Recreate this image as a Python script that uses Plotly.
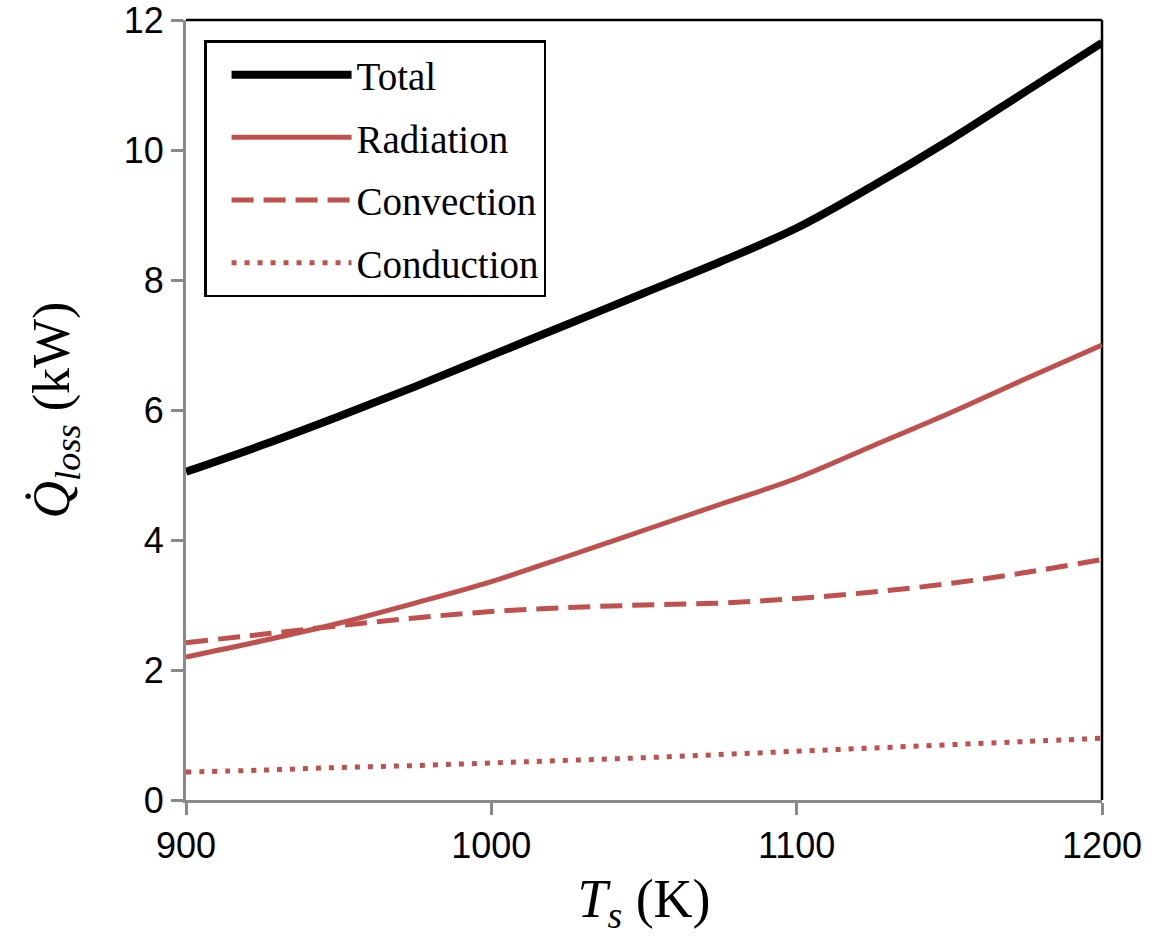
import plotly.graph_objects as go

T_s = [900, 925, 950, 975, 1000, 1025, 1050, 1075, 1100, 1125, 1150, 1175, 1200]
total = [5.05, 5.46, 5.90, 6.36, 6.84, 7.32, 7.80, 8.28, 8.80, 9.45, 10.15, 10.90, 11.65]
radiation = [2.20, 2.45, 2.72, 3.03, 3.36, 3.75, 4.15, 4.55, 4.95, 5.45, 5.95, 6.48, 7.00]
convection = [2.42, 2.55, 2.68, 2.80, 2.90, 2.96, 3.00, 3.03, 3.10, 3.20, 3.33, 3.50, 3.70]
conduction = [0.43, 0.46, 0.50, 0.53, 0.57, 0.61, 0.65, 0.70, 0.75, 0.80, 0.85, 0.90, 0.95]

x_ticks = [900, 1000, 1100, 1200]
y_ticks = [0, 2, 4, 6, 8, 10, 12]

red = "#C0504D"
serif = "Liberation Serif, Times New Roman, serif"
sans = "Liberation Sans, Arial, sans-serif"

fig = go.Figure()
fig.add_trace(go.Scatter(x=T_s, y=total, name="Total", mode="lines", legendgroup="a",
                         line=dict(color="black", width=8, shape="spline")))
fig.add_trace(go.Scatter(x=T_s, y=radiation, name="Radiation", mode="lines", legendgroup="b",
                         line=dict(color=red, width=5, shape="spline")))
fig.add_trace(go.Scatter(x=T_s, y=convection, name="Convection", mode="lines", legendgroup="c",
                         line=dict(color=red, width=5, dash="22px,10px", shape="spline")))
fig.add_trace(go.Scatter(x=T_s, y=conduction, name="Conduction", mode="lines", legendgroup="d",
                         line=dict(color=red, width=5, dash="5px,8px", shape="spline")))

fig.update_layout(
    width=1152, height=949,
    margin=dict(l=186, r=50, t=20, b=149),
    paper_bgcolor="white", plot_bgcolor="white",
    showlegend=True,
    legend=dict(x=0.0197, y=0.974, xanchor="left", yanchor="top",
                bgcolor="white", bordercolor="black", borderwidth=2.5,
                font=dict(family=serif, size=39, color="black"),
                itemwidth=120, tracegroupgap=9, traceorder="grouped",
                indentation=20),
    xaxis=dict(range=[900, 1200], tickvals=x_ticks, showgrid=False, zeroline=False,
               automargin=False, ticklabeloverflow="allow",
               showline=True, linecolor="#898989", linewidth=3,
               ticks="outside", ticklen=12, tickwidth=3, tickcolor="#898989",
               tickfont=dict(family=sans, size=36, color="black"),
               title=dict(text="<i>T</i><sub><i>s</i></sub> (K)", standoff=14,
                          font=dict(family=serif, size=54, color="black"))),
    yaxis=dict(range=[0, 12], tickvals=y_ticks, showgrid=False, zeroline=False,
               automargin=False, ticklabeloverflow="allow",
               showline=True, linecolor="#898989", linewidth=3,
               ticks="outside", ticklen=12, tickwidth=3, tickcolor="#898989",
               tickfont=dict(family=sans, size=36, color="black"),
               title=dict(text="<i>Q̇</i><sub><i>loss</i></sub> (kW)", standoff=38,
                          font=dict(family=serif, size=52, color="black"))),
    shapes=[
        dict(type="line", xref="paper", yref="paper", x0=0, x1=1, y0=1, y1=1,
             line=dict(color="black", width=2.5), layer="below"),
        dict(type="line", xref="paper", yref="paper", x0=1, x1=1, y0=0, y1=1,
             line=dict(color="black", width=2.5), layer="below"),
    ],
)

fig.write_html("out.html")
